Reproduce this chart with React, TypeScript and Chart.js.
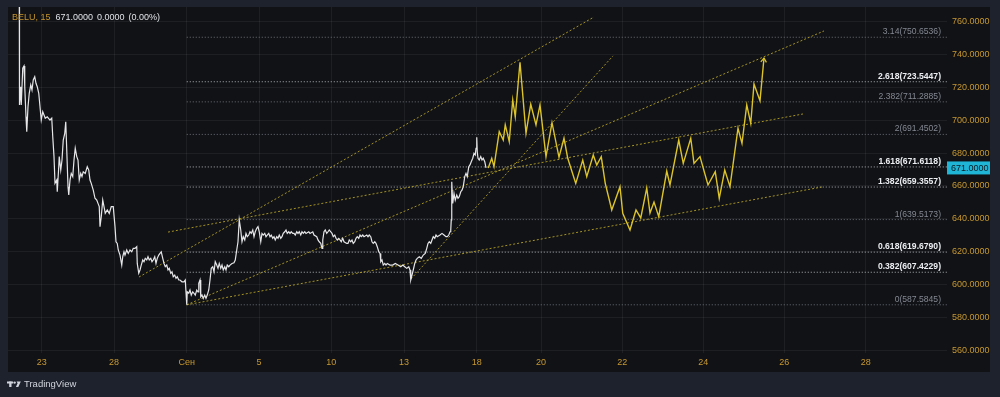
import React, { useEffect, useRef } from 'react';
import { Chart, registerables } from 'chart.js';
Chart.register(...registerables);

// ---- header / meta ----
const symbolText = 'BELU, 15';
const headerValues = ['671.0000', '0.0000', '(0.00%)'];
const lastPrice = 671;

// ---- axes (x = bar index, Сен 1 = 0) ----
const xMin = -715;
const xMax = 3041;
const yMin = 558.2;
const yMax = 769.1;
const xTickPos = [-580, -291, 0, 289, 578, 869, 1160, 1417, 1742, 2066, 2390, 2716];
const xTickLabels = ['23', '28', 'Сен', '5', '10', '13', '18', '20', '22', '24', '26', '28'];
const yTicks = [560, 580, 600, 620, 640, 660, 680, 700, 720, 740, 760];

// ---- price history (15m) ----
const priceX = [
  -670, -669, -664, -662, -656, -651, -648, -643, -640, -635, -630, -624, -619, -614, -608, -603, -598, -592, -587, -582,
  -576, -571, -566, -558, -547, -540, -536, -531, -527, -520, -518, -512, -510, -504, -499, -494, -488, -484, -480, -475,
  -472, -467, -462, -456, -451, -446, -440, -435, -430, -424, -419, -414, -406, -398, -392, -387, -382, -374, -367, -360,
  -355, -350, -347, -342, -336, -331, -326, -318, -310, -302, -294, -287, -283, -278, -274, -267, -260, -256, -251, -247,
  -240, -234, -227, -220, -214, -207, -200, -198, -192, -187, -182, -176, -171, -166, -160, -155, -150, -144, -139, -134,
  -128, -123, -118, -112, -107, -102, -96, -91, -86, -80, -75, -70, -64, -59, -54, -48, -43, -38, -32, -27,
  -19, -11, -6, 0, 2, 8, 13, 18, 24, 29, 34, 40, 45, 48, 53, 56, 61, 66, 72, 77,
  82, 88, 93, 98, 104, 109, 114, 120, 125, 130, 136, 141, 146, 152, 157, 162, 168, 173, 181, 189,
  194, 200, 205, 210, 216, 221, 226, 232, 237, 242, 248, 253, 258, 264, 269, 274, 280, 285, 290, 296,
  301, 306, 312, 317, 322, 328, 333, 338, 344, 349, 354, 360, 365, 370, 376, 381, 386, 392, 397, 402,
  408, 413, 418, 424, 429, 434, 440, 445, 450, 456, 461, 466, 472, 477, 488, 493, 504, 509, 520, 525,
  530, 536, 541, 544, 549, 554, 560, 565, 570, 576, 581, 586, 592, 597, 602, 608, 613, 618, 624, 629,
  640, 645, 650, 656, 661, 666, 672, 677, 682, 688, 693, 698, 704, 709, 720, 725, 730, 736, 741, 746,
  752, 757, 762, 768, 773, 776, 781, 786, 792, 797, 802, 813, 824, 834, 845, 856, 864, 872, 880, 888,
  893, 896, 901, 906, 912, 917, 922, 930, 938, 946, 954, 960, 965, 970, 976, 981, 986, 992, 997, 1002,
  1013, 1021, 1029, 1037, 1042, 1048, 1053, 1056, 1058, 1060, 1064, 1069, 1074, 1080, 1085, 1090, 1096, 1101, 1106, 1112,
  1117, 1122, 1128, 1133, 1138, 1144, 1149, 1154, 1157, 1160, 1162, 1165, 1170, 1176, 1181, 1186, 1192, 1197,
];
const priceY = [
  785.6, 709.4, 720.5, 709.4, 731.8, 733.2, 720.5, 702.2, 693.1, 708.3, 716.5, 721.6, 718.5, 724.6, 726.6, 722.6, 720.5, 716.5, 708.3, 700.2,
  705.3, 703.3, 701.3, 702.2, 700.2, 701.3, 690.0, 677.9, 661.6, 663.6, 656.5, 671.8, 677.9, 669.7, 675.8, 688.0, 692.1, 699.2, 681.9, 659.6,
  654.5, 663.6, 667.7, 665.7, 675.8, 683.0, 677.9, 675.8, 663.6, 667.7, 665.7, 668.7, 667.7, 671.8, 669.7, 663.6, 661.6, 657.5, 652.5, 651.4,
  649.4, 647.4, 635.2, 641.3, 651.4, 647.4, 643.3, 645.4, 643.3, 647.4, 647.4, 635.2, 626.0, 625.0, 621.0, 617.9, 611.8, 616.9, 619.9, 617.9,
  621.0, 618.9, 621.0, 619.9, 622.0, 622.0, 623.0, 612.8, 606.8, 608.8, 611.8, 614.9, 613.8, 615.9, 614.9, 616.9, 614.9, 615.9, 613.8, 614.9,
  616.9, 612.8, 615.9, 617.9, 618.9, 619.9, 615.9, 612.8, 610.8, 611.8, 608.8, 609.8, 606.8, 607.7, 604.7, 605.7, 603.7, 604.7, 602.7, 602.7,
  601.6, 601.6, 602.7, 587.6, 595.5, 594.6, 596.6, 593.5, 595.5, 594.6, 593.5, 596.6, 595.5, 600.7, 602.7, 592.5, 593.5, 591.5, 593.5, 591.5,
  593.5, 596.6, 602.7, 609.8, 610.8, 607.7, 613.8, 611.8, 609.8, 612.8, 609.8, 611.8, 608.8, 610.8, 608.8, 611.8, 610.8, 611.8, 612.8, 613.2,
  614.9, 621.0, 626.0, 639.3, 633.2, 626.0, 629.1, 627.1, 631.1, 629.1, 630.1, 632.1, 631.1, 633.2, 629.1, 632.1, 634.2, 635.2, 632.1, 626.0,
  631.1, 630.1, 631.1, 629.1, 630.1, 631.1, 629.1, 630.1, 628.1, 629.1, 627.1, 629.1, 628.1, 630.1, 628.1, 629.1, 631.1, 632.1, 633.2, 631.1,
  632.1, 631.1, 632.1, 631.1, 631.1, 630.1, 632.1, 631.1, 632.1, 630.1, 632.1, 631.1, 632.1, 631.1, 632.1, 631.1, 632.1, 630.1, 629.1, 627.1,
  626.0, 625.0, 622.0, 627.1, 632.1, 633.2, 631.1, 632.1, 633.2, 632.1, 631.1, 629.1, 630.1, 628.1, 627.1, 628.1, 627.1, 626.0, 628.1, 626.0,
  625.0, 625.0, 627.1, 626.0, 627.1, 625.0, 626.0, 628.1, 629.1, 628.1, 630.1, 629.1, 630.1, 629.1, 630.1, 629.1, 630.1, 629.1, 626.0, 625.0,
  626.0, 625.0, 623.0, 619.9, 618.9, 613.8, 614.9, 611.8, 612.8, 611.8, 612.8, 611.8, 611.8, 612.8, 611.8, 610.8, 611.8, 610.8, 609.8, 610.8,
  608.8, 602.7, 605.7, 608.8, 612.8, 614.9, 615.9, 616.9, 615.9, 617.9, 618.9, 622.0, 625.0, 626.0, 625.0, 627.1, 629.1, 628.1, 630.1, 629.1,
  630.1, 631.1, 630.1, 629.1, 629.1, 630.1, 632.1, 633.2, 639.3, 662.6, 649.4, 655.5, 651.4, 654.5, 652.5, 653.5, 656.5, 657.5, 659.6, 665.7,
  667.7, 665.7, 671.8, 672.8, 674.8, 676.9, 679.9, 678.9, 683.0, 689.7, 680.9, 676.9, 675.8, 677.9, 675.8, 676.9, 674.8, 671.0,
];

// ---- projected path (yellow) ----
const forecastX = [
  1206, 1220, 1229, 1250, 1266, 1274, 1290, 1304, 1314, 1333, 1357, 1376, 1397, 1413, 1437, 1461, 1489, 1509, 1524, 1556,
  1584, 1600, 1626, 1640, 1658, 1674, 1700, 1733, 1744, 1773, 1797, 1816, 1840, 1853, 1869, 1888, 1920, 1933, 1968, 1986,
  2016, 2029, 2053, 2085, 2114, 2130, 2152, 2173, 2205, 2221, 2240, 2256, 2269, 2293, 2309,
];
const forecastY = [
  671.0, 676.9, 671.8, 693.1, 688.0, 697.2, 687.0, 712.4, 702.2, 735.4, 692.1, 709.8, 697.2, 709.4, 677.9, 698.6, 677.5, 689.1, 676.9, 661.6,
  675.8, 665.7, 678.9, 672.8, 677.9, 661.6, 645.4, 659.6, 643.3, 633.2, 645.4, 640.5, 658.8, 643.5, 650.2, 641.3, 669.1, 660.6, 688.0, 673.8,
  689.1, 673.8, 677.9, 660.6, 668.7, 652.5, 669.7, 659.6, 695.2, 686.0, 709.4, 698.2, 722.2, 712.0, 738.0,
];

// ---- Fibonacci extension ----
const fibRatios = ['0', '0.382', '0.618', '1', '1.382', '1.618', '2', '2.382', '2.618', '3.14'];
const fibPrices = [587.5845, 607.4229, 619.679, 639.5173, 659.3557, 671.6118, 691.4502, 711.2885, 723.5447, 750.6536];
const fibBold = [false, true, true, false, true, true, false, false, true, false];
const fibStartX = 0;

// ---- trend lines ----
const trendStartX = [-191, -75, 0, 0, 897];
const trendStartY = [604.5, 631.9, 587.58, 587.58, 603.3];
const trendEndX = [1629, 2465, 2549, 2541, 1705];
const trendEndY = [763.0, 703.9, 754.5, 659.4, 739.3];

const GOLD = '#c8982f';
const FONT = '"Liberation Sans", Arial, sans-serif';

const tvPlugin = {
  id: 'tvDecor',
  beforeDraw(chart: any) {
    const { ctx, chartArea } = chart;
    ctx.save();
    ctx.fillStyle = '#1e222d';
    ctx.fillRect(0, 0, chart.width, chart.height);
    ctx.fillStyle = '#101216';
    ctx.fillRect(chartArea.left, chartArea.top, chart.width - 10 - chartArea.left, chart.height - 25 - chartArea.top);
    ctx.restore();
  },
  afterDraw(chart: any) {
    const { ctx, chartArea } = chart;
    const ys = chart.scales.y;
    const xs = chart.scales.x;
    ctx.save();
    // fib labels
    ctx.textAlign = 'right';
    ctx.textBaseline = 'alphabetic';
    fibPrices.forEach((p, i) => {
      const y = ys.getPixelForValue(p);
      ctx.font = (fibBold[i] ? 'bold ' : '') + '8.6px ' + FONT;
      ctx.fillStyle = fibBold[i] ? '#eceef2' : '#858892';
      ctx.fillText(`${fibRatios[i]}(${p.toFixed(4)})`, chartArea.right - 6, y - 3);
    });
    // arrow head on projection
    const n = forecastX.length;
    const tx = xs.getPixelForValue(forecastX[n - 1]);
    const ty = ys.getPixelForValue(forecastY[n - 1]);
    const px = xs.getPixelForValue(forecastX[n - 2]);
    const py = ys.getPixelForValue(forecastY[n - 2]);
    const ang = Math.atan2(ty - py, tx - px);
    ctx.strokeStyle = '#dcc42a';
    ctx.lineWidth = 1.3;
    ctx.beginPath();
    ctx.moveTo(tx - 5 * Math.cos(ang - 0.6), ty - 5 * Math.sin(ang - 0.6));
    ctx.lineTo(tx, ty);
    ctx.lineTo(tx - 5 * Math.cos(ang + 0.6), ty - 5 * Math.sin(ang + 0.6));
    ctx.stroke();
    // last price label
    const ly = ys.getPixelForValue(lastPrice);
    ctx.fillStyle = '#1fb5d6';
    ctx.fillRect(chartArea.right, ly - 6.5, 43, 13);
    ctx.fillStyle = '#0c1a22';
    ctx.font = '9px ' + FONT;
    ctx.textAlign = 'left';
    ctx.textBaseline = 'middle';
    ctx.fillText(lastPrice.toFixed(4), chartArea.right + 4, ly + 0.5);
    // header
    ctx.textBaseline = 'alphabetic';
    ctx.font = '9px ' + FONT;
    ctx.fillStyle = '#c8962e';
    let hx = 12;
    ctx.fillText(symbolText, hx, 20);
    hx += ctx.measureText(symbolText).width + 5;
    ctx.fillStyle = '#dfe1e6';
    headerValues.forEach((t) => {
      ctx.fillText(t, hx, 20);
      hx += ctx.measureText(t).width + 4;
    });
    // TradingView logo
    ctx.fillStyle = '#d1d4dc';
    ctx.fillRect(7, 381.5, 6, 2);
    ctx.fillRect(9.2, 381.5, 2.3, 5.5);
    ctx.beginPath();
    ctx.arc(14.6, 382.6, 1.2, 0, Math.PI * 2);
    ctx.fill();
    ctx.beginPath();
    ctx.moveTo(16.6, 381.5);
    ctx.lineTo(20.8, 381.5);
    ctx.lineTo(18.3, 387);
    ctx.lineTo(15.9, 387);
    ctx.lineTo(17.6, 383.3);
    ctx.closePath();
    ctx.fill();
    ctx.font = '9.5px ' + FONT;
    ctx.fillText('TradingView', 24, 387);
    ctx.restore();
  },
};

export default function App() {
  const ref = useRef<HTMLCanvasElement | null>(null);
  useEffect(() => {
    document.body.style.margin = '0';
    const canvas = ref.current;
    if (!canvas) return;
    const toPts = (xs: number[], ys: number[]) => xs.map((x, i) => ({ x, y: ys[i] }));
    const fibSets = fibPrices.map((p, i) => ({
      data: [{ x: fibStartX, y: p }, { x: xMax, y: p }],
      borderColor: fibBold[i] ? 'rgba(205,207,212,0.85)' : 'rgba(140,143,152,0.75)',
      borderWidth: 1,
      borderDash: [1, 2],
      pointRadius: 0,
      order: 3,
    }));
    const trendSets = trendStartX.map((x0, i) => ({
      data: [{ x: x0, y: trendStartY[i] }, { x: trendEndX[i], y: trendEndY[i] }],
      borderColor: 'rgba(190,168,40,0.85)',
      borderWidth: 1,
      borderDash: [2, 2],
      pointRadius: 0,
      order: 2,
    }));
    const chart = new Chart(canvas, {
      type: 'line',
      data: {
        datasets: [
          {
            data: toPts(priceX, priceY),
            borderColor: '#e6e6e8',
            borderWidth: 1.2,
            pointRadius: 0,
            tension: 0,
            order: 0,
          },
          {
            data: toPts(forecastX, forecastY),
            borderColor: '#dcc42a',
            borderWidth: 1.4,
            pointRadius: 0,
            tension: 0,
            order: 1,
          },
          ...trendSets,
          ...fibSets,
        ] as any,
      },
      options: {
        responsive: false,
        animation: false,
        devicePixelRatio: 1,
        layout: { padding: { left: 8, top: 7, right: 10, bottom: 25 } },
        plugins: { legend: { display: false }, tooltip: { enabled: false } },
        events: [],
        scales: {
          x: {
            type: 'linear',
            min: xMin,
            max: xMax,
            border: { display: false },
            grid: { color: 'rgba(255,255,255,0.055)', drawTicks: false },
            afterBuildTicks: (s: any) => {
              s.ticks = xTickPos.map((v) => ({ value: v }));
            },
            afterFit: (s: any) => {
              s.height = 19;
              s.paddingLeft = 0;
              s.paddingRight = 0;
            },
            ticks: {
              autoSkip: false,
              maxRotation: 0,
              padding: 4,
              color: GOLD,
              font: { family: FONT, size: 9 },
              callback: (_v: any, i: number) => xTickLabels[i],
            },
          },
          y: {
            type: 'linear',
            position: 'right',
            min: yMin,
            max: yMax,
            border: { display: false },
            grid: { color: 'rgba(255,255,255,0.055)', drawTicks: false },
            afterBuildTicks: (s: any) => {
              s.ticks = yTicks.map((v) => ({ value: v }));
            },
            afterFit: (s: any) => {
              s.width = 43;
              s.paddingTop = 0;
              s.paddingBottom = 0;
            },
            ticks: {
              padding: 5,
              color: GOLD,
              font: { family: FONT, size: 9 },
              callback: (v: any) => Number(v).toFixed(4),
            },
          },
        },
      } as any,
      plugins: [tvPlugin],
    });
    return () => chart.destroy();
  }, []);
  return (
    <div style={{ width: 1000, height: 397 }}>
      <canvas ref={ref} width={1000} height={397} style={{ display: 'block' }} />
    </div>
  );
}
